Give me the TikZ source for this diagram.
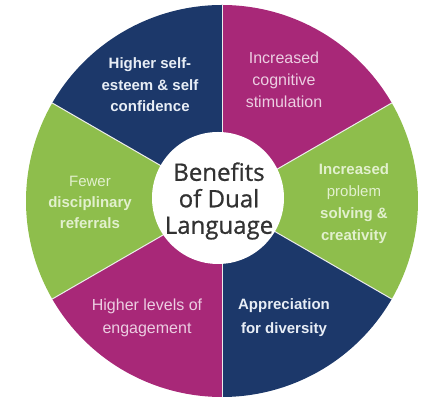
\documentclass[tikz,border=0pt]{standalone}
\usepackage{fontspec}
\setmainfont{Liberation Sans}
\newfontfamily\centerfont[FakeBold=0.8]{Open Sans}
\definecolor{navyseg}{RGB}{28,56,106}
\definecolor{magseg}{RGB}{168,40,120}
\definecolor{greenseg}{RGB}{142,190,76}
\definecolor{pinktxt}{RGB}{236,206,226}
\definecolor{greentxt}{RGB}{226,240,206}
\definecolor{bluetxt}{RGB}{232,238,246}
\definecolor{darktxt}{RGB}{50,50,50}
\begin{document}
\begin{tikzpicture}[x=1pt,y=1pt,
  seglabel/.style={align=center, inner sep=0pt},
  divider/.style={draw=white!85!gray, line width=1pt}]
\useasboundingbox (0,0) rectangle (424,398);
\coordinate (c) at (222,197);
\coordinate (ic) at (218,200);
\fill[navyseg]  (c) -- ++(90:196)  arc[start angle=90,  end angle=150, radius=196] -- cycle;
\fill[magseg]   (c) -- ++(30:196)  arc[start angle=30,  end angle=90,  radius=196] -- cycle;
\fill[greenseg] (c) -- ++(-30:196) arc[start angle=-30, end angle=30,  radius=196] -- cycle;
\fill[navyseg]  (c) -- ++(-90:196) arc[start angle=-90, end angle=-30, radius=196] -- cycle;
\fill[magseg]   (c) -- ++(-150:196) arc[start angle=-150, end angle=-90, radius=196] -- cycle;
\fill[greenseg] (c) -- ++(150:196) arc[start angle=150, end angle=210, radius=196] -- cycle;
\foreach \a in {90,30,-30,-90,-150,150}
  \draw[divider] (c) -- ++(\a:196);
\node[circle, fill=white, minimum size=132pt, inner sep=0pt] (hub) at (ic) {};
\node[seglabel, text=darktxt, font=\centerfont\fontsize{24}{26.5}\selectfont] (title) at (219,197) {Benefits\\of Dual\\Language};
\node[seglabel, text=bluetxt, font=\bfseries\fontsize{15}{21.5}\selectfont] (esteem) at (150,313) {Higher self-\\esteem \& self\\confidence};
\node[seglabel, text=pinktxt, font=\fontsize{16}{22}\selectfont] (cognitive) at (284,318) {Increased\\cognitive\\stimulation};
\node[seglabel, text=greentxt, font=\fontsize{15}{22}\selectfont] (problem) at (354,194) {\textbf{Increased}\\problem\\\textbf{solving \&}\\\textbf{creativity}};
\node[seglabel, text=bluetxt, font=\bfseries\fontsize{15}{24}\selectfont] (diversity) at (284,80) {Appreciation\\for diversity};
\node[seglabel, text=pinktxt, font=\fontsize{16}{23}\selectfont] (engagement) at (147,80.5) {Higher levels of\\engagement};
\node[seglabel, text=greentxt, font=\fontsize{15}{21}\selectfont] (referrals) at (90,196) {Fewer\\\textbf{disciplinary}\\\textbf{referrals}};
\end{tikzpicture}
\end{document}
